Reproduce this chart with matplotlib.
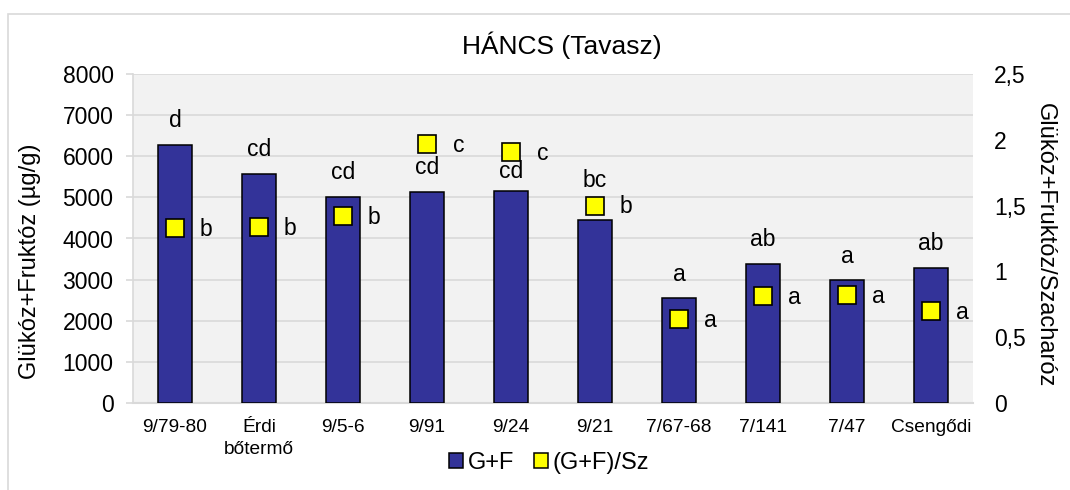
import matplotlib
matplotlib.use("Agg")
import matplotlib.pyplot as plt
from matplotlib.patches import Rectangle, Patch
from matplotlib.ticker import FuncFormatter, MultipleLocator
import numpy as np

plt.rcParams['font.family'] = ['Liberation Sans', 'DejaVu Sans']

categories = ["9/79-80", "Érdi\nbőtermő", "9/5-6", "9/91", "9/24", "9/21",
              "7/67-68", "7/141", "7/47", "Csengődi"]
gf_values = [6280, 5570, 5020, 5140, 5160, 4450, 2545, 3380, 2990, 3290]
ratio_values = [1.33, 1.34, 1.42, 1.97, 1.91, 1.50, 0.64, 0.81, 0.82, 0.70]
gf_letters = ["d", "cd", "cd", "cd", "cd", "bc", "a", "ab", "a", "ab"]
ratio_letters = ["b", "b", "b", "c", "c", "b", "a", "a", "a", "a"]

title = "HÁNCS (Tavasz)"
left_label = "Glükóz+Fruktóz (µg/g)"
right_label = "Glükóz+Fruktóz/Szacharóz"
legend_labels = ["G+F", "(G+F)/Sz"]

bar_color = "#333399"
marker_color = "#FFFF00"
grid_color = "#D9D9D9"
bg_color = "#F2F2F2"

W, H = 1070, 490
fig = plt.figure(figsize=(W / 100, H / 100), dpi=100)

# outer chart border
fig.patches.append(Rectangle((8 / W, -0.1), 1.2, 1.1 - 14 / H, transform=fig.transFigure,
                             facecolor="none", edgecolor=grid_color, lw=1.2, zorder=0))

left, right, top, bottom = 133, 973, 74, 403
ax = fig.add_axes([left / W, 1 - bottom / H, (right - left) / W, (bottom - top) / H])
ax.set_facecolor(bg_color)
ax2 = ax.twinx()

x = np.arange(len(categories))
ax.bar(x, gf_values, width=0.40, color=bar_color, edgecolor="black", linewidth=1.1, zorder=3)
ax.set_ylim(0, 8000)
ax.set_xlim(-0.5, len(categories) - 0.5)
ax.yaxis.set_major_locator(MultipleLocator(1000))
ax.grid(axis="y", color=grid_color, linewidth=1.2, zorder=0)
ax.set_axisbelow(True)
for s in ["top", "right"]:
    ax.spines[s].set_visible(False)
ax.spines["left"].set_color(grid_color)
ax.spines["left"].set_linewidth(1.2)
ax.spines["bottom"].set_color(grid_color)
ax.spines["bottom"].set_linewidth(1.5)
ax.tick_params(axis="y", length=5, width=1.2, color=grid_color, pad=9, labelsize=16.5)
ax.tick_params(axis="x", length=0, pad=11.5, labelsize=13.8)
ax.set_xticks(x)
ax.set_xticklabels(categories, linespacing=1.4)
ax.set_ylabel(left_label, fontsize=17, va="center")
ax.yaxis.set_label_coords((30 - left) / (right - left), (bottom - 261) / (bottom - top))

ax2.set_ylim(0, 2.5)
ax2.yaxis.set_major_locator(MultipleLocator(0.5))
ax2.yaxis.set_major_formatter(FuncFormatter(lambda v, p: ("%g" % v).replace(".", ",")))
for s in ["top", "right", "left", "bottom"]:
    ax2.spines[s].set_visible(False)
ax2.tick_params(axis="y", length=0, pad=15, labelsize=16.5)
ax2.plot(x, ratio_values, linestyle="none", marker="s", markersize=13.5,
         markerfacecolor=marker_color, markeredgecolor="black", markeredgewidth=1.2, zorder=5)
ax2.set_ylabel(right_label, fontsize=17, rotation=270, va="center")
ax2.yaxis.set_label_coords((1045 - left) / (right - left), (bottom - 245) / (bottom - top))

# letters above bars (avoid overlapping markers)
px_per_unit = (bottom - top) / 8000.0
to_left = 8000.0 / 2.5
for i, (v, r, lab) in enumerate(zip(gf_values, ratio_values, gf_letters)):
    label_px = v * px_per_unit + 24
    m_px = r * to_left * px_per_unit
    if abs(label_px - m_px) < 19:
        if m_px < label_px:
            label_px = m_px + 10 + 15
        else:
            label_px = m_px - 10 - 10
    ax.text(i, label_px / px_per_unit, lab, ha="center", va="center", fontsize=16.5, zorder=6)

for i, (r, lab) in enumerate(zip(ratio_values, ratio_letters)):
    ax2.annotate(lab, (i, r), xytext=(22.5, -1), textcoords="offset points",
                 ha="center", va="center", fontsize=16.5, zorder=6)

fig.text(562 / W, 1 - 45 / H, title, ha="center", va="center", fontsize=19)

handles = [Patch(facecolor=bar_color, edgecolor="black", linewidth=1.1),
           Patch(facecolor=marker_color, edgecolor="black", linewidth=1.1)]
fig.legend(handles, legend_labels, loc="center", bbox_to_anchor=(549 / W, 1 - 463 / H),
           ncol=2, frameon=False, fontsize=17, handlelength=0.6, handleheight=0.6,
           handletextpad=0.2, columnspacing=0.85)

fig.savefig("out.png", dpi=100)
